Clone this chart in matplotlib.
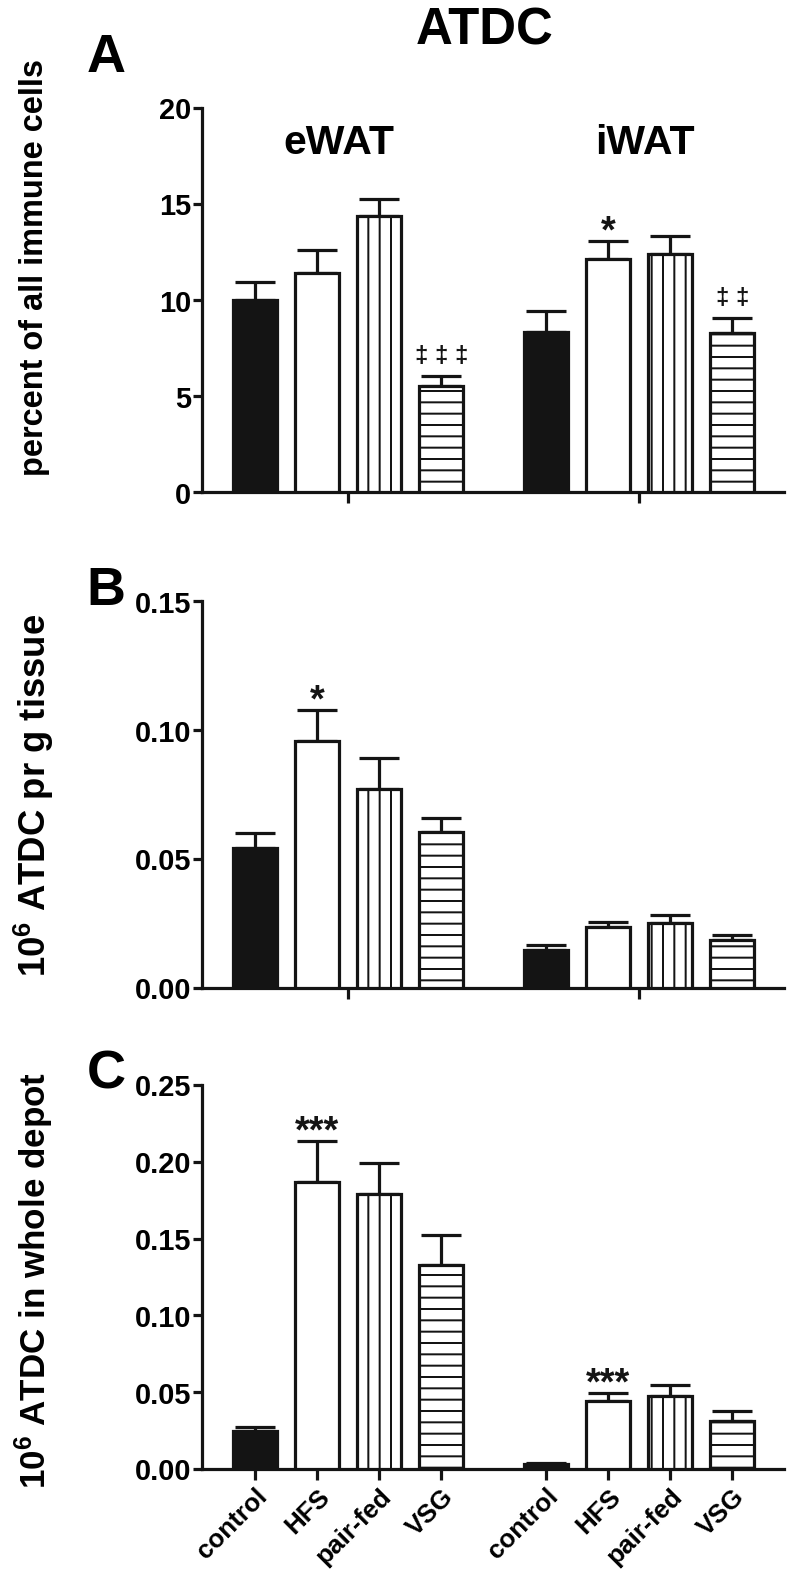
import numpy as np
import matplotlib
matplotlib.use('Agg')
import matplotlib.pyplot as plt

DPI = 136
def pt(pixels):
    # pixel sizes -> points at this dpi
    return pixels * 72.0 / DPI

plt.rcParams['font.family'] = ['Liberation Sans', 'DejaVu Sans']
plt.rcParams['font.weight'] = 'bold'
plt.rcParams['mathtext.fontset'] = 'custom'
plt.rcParams['mathtext.bf'] = 'Liberation Sans:bold'
plt.rcParams['mathtext.rm'] = 'Liberation Sans:bold'
plt.rcParams['mathtext.default'] = 'bf'
plt.rcParams['hatch.linewidth'] = pt(2.0)

# data
groups = ['eWAT', 'iWAT']
diets = ['control', 'HFS', 'pair-fed', 'VSG']

pct_mean = [[10.0, 11.42, 14.4, 5.52], [8.33, 12.15, 12.42, 8.3]]
pct_top = [[10.93, 12.63, 15.27, 6.07], [9.42, 13.06, 13.32, 9.07]]
pct_sig = [['', '', '', '‡ ‡ ‡'], ['', '*', '', '‡ ‡']]

gram_mean = [[0.0542, 0.096, 0.0772, 0.0605], [0.0146, 0.0236, 0.0252, 0.0184]]
gram_top = [[0.060, 0.108, 0.0892, 0.0659], [0.0167, 0.0255, 0.0281, 0.0206]]
gram_sig = [['', '*', '', ''], ['', '', '', '']]

depot_mean = [[0.0245, 0.187, 0.179, 0.133], [0.0032, 0.0445, 0.0475, 0.0315]]
depot_top = [[0.0275, 0.2137, 0.199, 0.152], [0.0038, 0.0495, 0.0545, 0.0378]]
depot_sig = [['', '***', '', ''], ['', '***', '', '']]

fills = ['#141414', 'white', 'white', 'white']
hatches = [None, None, '||', '--']
ink = '#141414'
LW = pt(3.2)

fig = plt.figure(figsize=(787.4 / DPI, 1587.4 / DPI), dpi=DPI)
W, H = 787.0, 1587.0

def add_axes(top_px, bottom_px):
    return fig.add_axes([202 / W, 1 - bottom_px / H, (784 - 202) / W, (bottom_px - top_px) / H])

offset = 4.69
xpos = [np.arange(4), np.arange(4) + offset]

def panel(ax, means, tops, sigs, ymax, yticks, fmt):
    for g in range(2):
        m = np.array(means[g])
        t = np.array(tops[g])
        for i in range(4):
            ax.bar(xpos[g][i], m[i], width=0.71, color=fills[i], edgecolor=ink,
                   linewidth=LW, hatch=hatches[i], zorder=3)
        ax.errorbar(xpos[g], m, yerr=[np.zeros(4), t - m], fmt='none', ecolor=ink,
                    elinewidth=LW, capsize=pt(20), capthick=LW, zorder=2)
        for i in range(4):
            s = sigs[g][i]
            if not s:
                continue
            if '*' in s:
                size, dy = 38, -9
            else:
                size, dy = 24, 8
            ax.annotate(s, (xpos[g][i], t[i]), xytext=(0, pt(dy)),
                        textcoords='offset points', ha='center', va='bottom',
                        fontsize=pt(size), fontweight='bold', color=ink)
    ax.set_xlim(-0.855, 8.53)
    ax.set_ylim(0, ymax)
    ax.set_yticks(yticks)
    ax.set_yticklabels([fmt.format(v) for v in yticks])
    for s in ['top', 'right']:
        ax.spines[s].set_visible(False)
    for s in ['left', 'bottom']:
        ax.spines[s].set_linewidth(LW)
        ax.spines[s].set_color(ink)
    ax.tick_params(axis='y', width=LW, length=pt(9), color=ink, labelsize=pt(29), pad=pt(2))
    ax.tick_params(axis='x', width=LW, length=pt(11), color=ink, labelsize=pt(26), pad=pt(4))

axA = add_axes(108.3, 492.7)
panel(axA, pct_mean, pct_top, pct_sig, 20, [0, 5, 10, 15, 20], '{:g}')
axA.set_xticks([xpos[0].mean(), xpos[1].mean()])
axA.set_xticklabels([])
axA.text(1.35, 17.6, groups[0], ha='center', va='baseline', fontsize=pt(41), fontweight='bold')
axA.text(6.29, 17.6, groups[1], ha='center', va='baseline', fontsize=pt(41), fontweight='bold')

axB = add_axes(601.7, 988)
panel(axB, gram_mean, gram_top, gram_sig, 0.15, [0, 0.05, 0.10, 0.15], '{:.2f}')
axB.set_xticks([xpos[0].mean(), xpos[1].mean()])
axB.set_xticklabels([])

axC = add_axes(1085, 1469)
panel(axC, depot_mean, depot_top, depot_sig, 0.25, [0, 0.05, 0.10, 0.15, 0.20, 0.25], '{:.2f}')
axC.set_xticks(np.concatenate(xpos))
axC.set_xticklabels(diets + diets, rotation=45, ha='right', va='top', rotation_mode='anchor')

# titles and labels
fig.text(484 / W, 1 - 44 / H, 'ATDC', ha='center', va='baseline', fontsize=pt(51), fontweight='bold')
for letter, base in [('A', 72), ('B', 605), ('C', 1088)]:
    fig.text(106 / W, 1 - base / H, letter, ha='center', va='baseline', fontsize=pt(54), fontweight='bold')

ylab = ['percent of all immune cells', r'10$^{6}$ ATDC pr g tissue', r'10$^{6}$ ATDC in whole depot']
for lab, yc, fs in zip(ylab, [267, 795, 1280], [32.5, 36.5, 35]):
    fig.text(34 / W, 1 - yc / H, lab, rotation=90, ha='center', va='center',
             fontsize=pt(fs), fontweight='bold')

fig.savefig('out.png', dpi=DPI)
